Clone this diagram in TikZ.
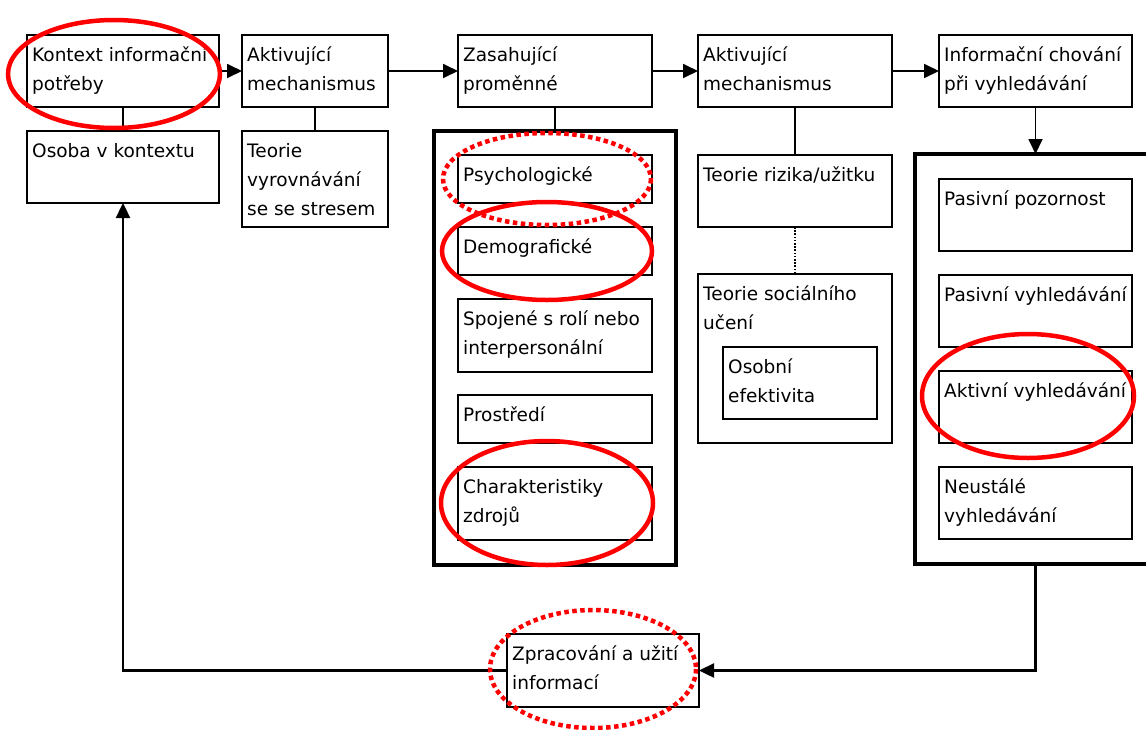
\documentclass[tikz,border=0pt]{standalone}
\usepackage{fontspec}
\setmainfont{DejaVu Sans}
\usetikzlibrary{arrows.meta}

\begin{document}
\begin{tikzpicture}[x=1pt,y=-1pt,
  font=\fontsize{18.5}{29}\selectfont,
  box/.style={draw, line width=1.8pt, rectangle, anchor=north west,
    inner sep=0pt, outer sep=0pt},
  frame/.style={draw, line width=3.2pt, rectangle, anchor=north west,
    inner sep=0pt, outer sep=0pt},
  txt/.style={anchor=north west, inner sep=0pt, align=left,
    xshift=5pt, yshift=-5.7pt},
  link/.style={line width=1.8pt},
  tip/.style={-{Triangle[length=15pt,width=14pt]}},
  arr/.style={link, tip},
  feedback/.style={line width=2.4pt, tip},
  weak/.style={line width=1.6pt, dash pattern=on 1.6pt off 1.6pt},
  ring/.style={draw=red, line width=4.5pt},
  dotring/.style={draw=red, line width=4.5pt, dash pattern=on 4.5pt off 3.5pt},
]
\useasboundingbox (0,0) rectangle (1146,729);
\fill[white] (0,0) rectangle (1146,729);

% first column: context of the need
\node[box, minimum width=192pt, minimum height=72pt,
  label={[txt]north west:{\strut Kontext informační\\potřeby}}] (kon) at (27,35) {};
\node[box, minimum width=192pt, minimum height=72pt,
  label={[txt]north west:{\strut Osoba v kontextu}}] (osoba) at (27,131) {};

% second column: activating mechanism
\node[box, minimum width=146pt, minimum height=72pt,
  label={[txt]north west:{\strut Aktivující\\mechanismus}}] (akt1) at (242,35) {};
\node[box, minimum width=146pt, minimum height=96pt,
  label={[txt]north west:{\strut Teorie\\vyrovnávání\\se se stresem}}] (teov) at (242,131) {};

% third column: intervening variables
\node[box, minimum width=194pt, minimum height=72pt,
  label={[txt]north west:{\strut Zasahující\\proměnné}}] (zas) at (458,35) {};
\node[frame, minimum width=242pt, minimum height=434pt] (cont1) at (434,131) {};
\node[box, minimum width=194pt, minimum height=48pt,
  label={[txt]north west:{\strut Psychologické}}] (psy) at (458,155) {};
\node[box, minimum width=194pt, minimum height=48pt,
  label={[txt]north west:{\strut Demografické}}] (dem) at (458,227) {};
\node[box, minimum width=194pt, minimum height=73pt,
  label={[txt]north west:{\strut Spojené s rolí nebo\\interpersonální}}] (spo) at (458,299) {};
\node[box, minimum width=194pt, minimum height=48pt,
  label={[txt]north west:{\strut Prostředí}}] (pro) at (458,395) {};
\node[box, minimum width=194pt, minimum height=73pt,
  label={[txt]north west:{\strut Charakteristiky\\zdrojů}}] (cha) at (458,467) {};

% fourth column: second activating mechanism
\node[box, minimum width=194pt, minimum height=72pt,
  label={[txt]north west:{\strut Aktivující\\mechanismus}}] (akt2) at (698,35) {};
\node[box, minimum width=194pt, minimum height=72pt,
  label={[txt]north west:{\strut Teorie rizika/užitku}}] (riz) at (698,155) {};
\node[box, minimum width=194pt, minimum height=169pt,
  label={[txt]north west:{\strut Teorie sociálního\\učení}}] (soc) at (698,274) {};
\node[box, minimum width=154pt, minimum height=72pt,
  label={[txt]north west:{\strut Osobní\\efektivita}}] (oso) at (723,347) {};

% fifth column: information seeking behaviour
\node[box, minimum width=193pt, minimum height=72pt,
  label={[txt]north west:{\strut Informační chování\\při vyhledávání}}] (inf) at (939,35) {};
\node[frame, minimum width=242pt, minimum height=410pt] (cont2) at (915,154) {};
\node[box, minimum width=193pt, minimum height=72pt,
  label={[txt]north west:{\strut Pasivní pozornost}}] (ppoz) at (939,179) {};
\node[box, minimum width=193pt, minimum height=72pt,
  label={[txt]north west:{\strut Pasivní vyhledávání}}] (pvyh) at (939,275) {};
\node[box, minimum width=193pt, minimum height=72pt,
  label={[txt]north west:{\strut Aktivní vyhledávání}}] (avyh) at (939,371) {};
\node[box, minimum width=193pt, minimum height=72pt,
  label={[txt]north west:{\strut Neustálé\\vyhledávání}}] (neu) at (939,467) {};

% processing and use
\node[box, minimum width=192pt, minimum height=73pt,
  label={[txt]north west:{\strut Zpracování a užití\\informací}}] (zpr) at (507,634) {};

% connectors
\draw[arr] (kon.east) -- (akt1.west);
\draw[arr] (akt1.east) -- (zas.west);
\draw[arr] (zas.east) -- (akt2.west);
\draw[arr] (akt2.east) -- (inf.west);
\draw[link] (kon.south) -- (osoba.north);
\draw[link] (akt1.south) -- (teov.north);
\draw[link] (zas.south) -- (cont1.north);
\draw[link] (akt2.south) -- (riz.north);
\draw[weak] (riz.south) -- (soc.north);
\draw[arr] (inf.south) -- (inf.south |- cont2.north);
\draw[feedback] (inf.south |- cont2.south) |- (zpr.east);
\draw[feedback] (zpr.west) -| (osoba.south);

% red highlight rings
\draw[ring] (114,74) ellipse [x radius=106, y radius=54];
\draw[dotring] (547,179) ellipse [x radius=104, y radius=46];
\draw[ring] (547,251) ellipse [x radius=105, y radius=49];
\draw[ring] (547,503) ellipse [x radius=106, y radius=62];
\draw[ring] (1028,396) ellipse [x radius=106, y radius=62];
\draw[dotring] (593,669) ellipse [x radius=103, y radius=59];
\end{tikzpicture}
\end{document}
